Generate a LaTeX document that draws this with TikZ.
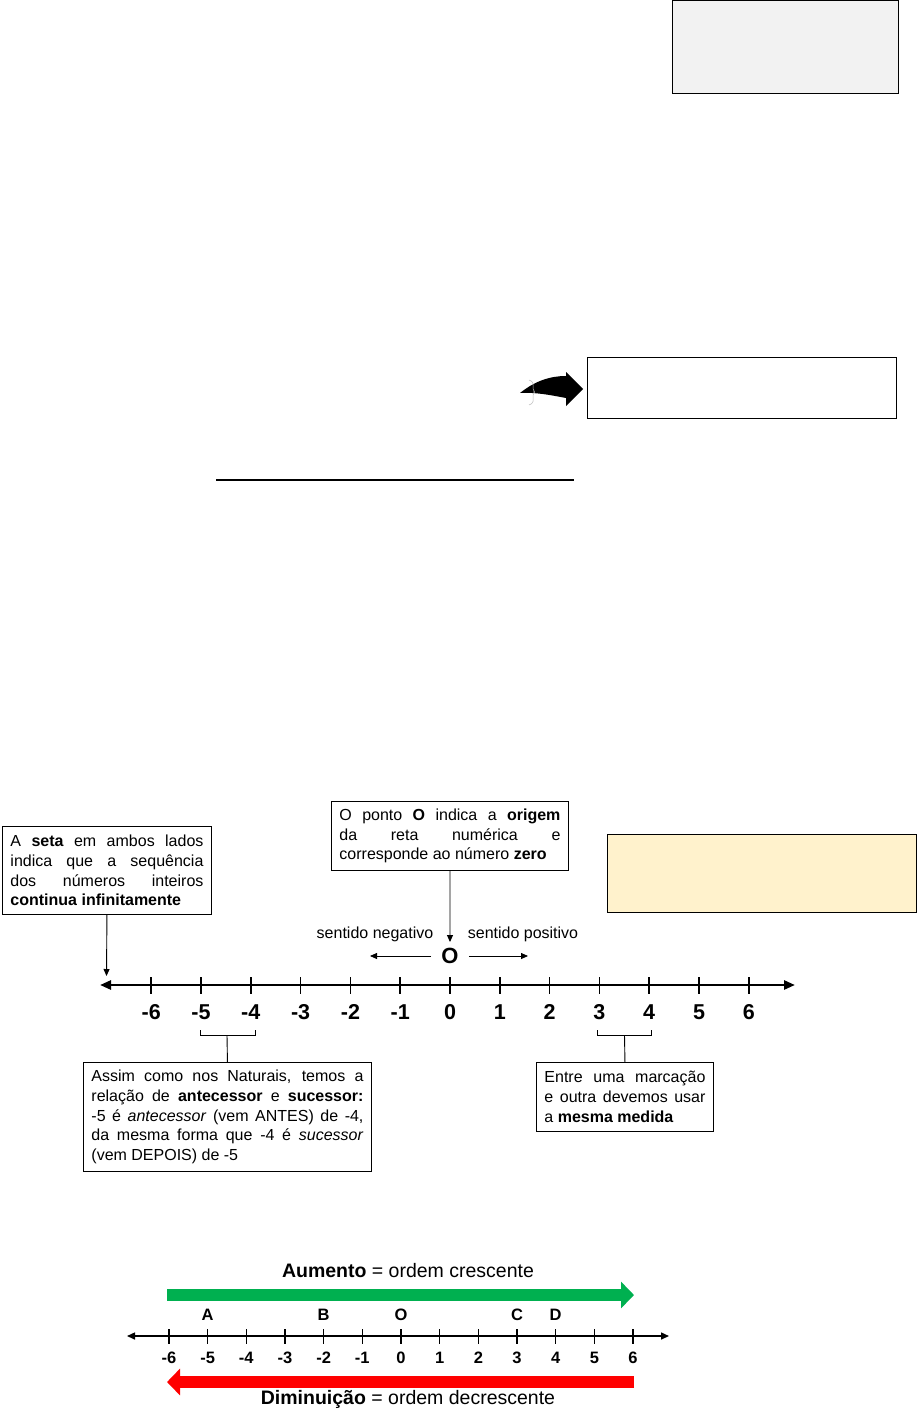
\documentclass[tikz,border=0pt]{standalone}
\usepackage{fontspec}
\setmainfont{Liberation Sans}
\usetikzlibrary{arrows.meta}
\definecolor{boxgray}{RGB}{242,242,242}
\definecolor{notecream}{RGB}{255,242,204}
\definecolor{upgreen}{RGB}{0,176,80}
\definecolor{downred}{RGB}{255,0,0}
\newcommand\bodysize{\fontsize{16}{19.8}\selectfont}
\tikzset{
  notebox/.style={draw,line width=.9pt,anchor=north west,align=justify,
    inner xsep=8pt,inner ysep=0pt,font=\bodysize},
  blankbox/.style={draw,line width=.9pt,anchor=north west,inner sep=0pt},
  numbig/.style={font=\fontsize{21.5}{21.5}\selectfont\bfseries},
  numsmall/.style={font=\fontsize{16.5}{16.5}\selectfont\bfseries},
  pointer/.style={line width=.9pt,-{Triangle[length=7pt,width=6pt]}},
  fattip/.style={-{Triangle[length=13pt,width=26pt]}}
}

\begin{document}
\begin{tikzpicture}[x=1pt,y=-1pt,line join=miter]
  \useasboundingbox (0,0) rectangle (917,1421);
  \node[blankbox,fill=boxgray,minimum width=226pt,minimum height=92pt] (topbox) at (672,0.5) {};
  \fill (520,393) .. controls (535,381) and (550,376) .. (566,376) -- (566,372) -- (583,389)
    -- (566,406) -- (566,398) .. controls (550,395) and (535,392) .. (520,393) -- cycle;
  \draw[gray!55,line width=.5pt,rounded corners=1.5pt] (529,380) -- (533,382) -- (533,390)
    -- (535,392) -- (533,394) -- (533,403) -- (529,405);
  \node[blankbox,minimum width=309pt,minimum height=61pt] (answerbox) at (587,357) {};
  \draw[line width=1.2pt] (216,480) -- (574,480);

  \node[notebox,text width=193pt,minimum height=88pt] (seta) at (2,826)
    {A \textbf{seta} em ambos lados\linebreak indica que a sequência\linebreak
     dos números inteiros\linebreak \textbf{continua infinitamente}};
  \node[notebox,text width=221pt,minimum height=69pt] (ponto) at (331,801)
    {O ponto \textbf{O} indica a \textbf{origem}\linebreak da reta numérica e\linebreak
     corresponde ao número \textbf{zero}};
  \node[blankbox,fill=notecream,minimum width=309pt,minimum height=78pt] (notebox) at (607,834) {};
  \node[font=\fontsize{22}{22}\selectfont\bfseries,inner xsep=10pt,inner ysep=2pt] (origin) at (450,956) {O};
  \node[font=\bodysize] (negtxt) at (375,934) {sentido negativo};
  \node[font=\bodysize] (postxt) at (523,934) {sentido positivo};
  \coordinate (setatip) at (106.5,976);
  \coordinate (negtip) at (370,956);
  \coordinate (postip) at (528,956);
  \draw[pointer] (seta.south) -- (setatip);
  \draw[pointer,shorten >=4pt] (ponto.south) -- (origin.north);
  \draw[pointer,line width=.8pt] (origin.west) -- (negtip);
  \draw[pointer,line width=.8pt] (origin.east) -- (postip);

  \coordinate (midL) at (100,985);
  \coordinate (midR) at (795,985);
  \draw[line width=2.6pt,{Triangle[length=11pt,width=9pt]}-{Triangle[length=11pt,width=9pt]}] (midL) -- (midR);
  \foreach \n [count=\i] in {-6,...,6} {
    \draw[line width=1.6pt] ({450+49.8*\n},977) -- ({450+49.8*\n},994);
    \node[numbig] (mid\i) at ({450+49.8*\n},1012) {\n};
  }
  \draw[line width=.9pt] (200,1030) -- (200,1035) -- (255,1035) -- (255,1030);
  \draw[line width=.9pt] (597,1030) -- (597,1035) -- (651,1035) -- (651,1030);
  \coordinate (brleft) at (227,1035);
  \coordinate (brright) at (624.5,1035);
  \node[notebox,text width=272pt,minimum height=109pt] (assim) at (83,1062)
    {Assim como nos Naturais, temos a\linebreak relação de \textbf{antecessor} e \textbf{sucessor:}\linebreak
     -5 é \textit{antecessor} (vem ANTES) de -4,\linebreak da mesma forma que -4 é \textit{sucessor}\linebreak
     (vem DEPOIS) de -5};
  \node[notebox,text width=161pt,minimum height=69pt] (entre) at (536,1062)
    {Entre uma marcação\linebreak e outra devemos usar\linebreak a \textbf{mesma medida}};
  \draw[line width=.9pt] (brleft) -- (assim.north);
  \draw[line width=.9pt] (brright) -- (entre.north);

  \node[font=\fontsize{19.5}{19.5}\selectfont] (uptxt) at (408,1271) {\textbf{Aumento} = ordem crescente};
  \coordinate (upS) at (167,1295);
  \coordinate (upE) at (634,1295);
  \draw[upgreen,line width=12pt,fattip] (upS) -- (upE);
  \foreach \l/\n in {A/-5,B/-2,O/0,C/3,D/4}
    \node[numsmall] (pt\l) at ({401+38.67*\n},1315) {\l};
  \coordinate (botL) at (127,1336);
  \coordinate (botR) at (669,1336);
  \draw[line width=1.5pt,{Triangle[length=8pt,width=7pt]}-{Triangle[length=8pt,width=7pt]}] (botL) -- (botR);
  \foreach \n [count=\i] in {-6,...,6} {
    \draw[line width=1.2pt] ({401+38.67*\n},1329) -- ({401+38.67*\n},1344);
    \node[numsmall] (bot\i) at ({401+38.67*\n},1358) {\n};
  }
  \coordinate (dnS) at (634,1382);
  \coordinate (dnE) at (167,1382);
  \draw[downred,line width=12pt,fattip] (dnS) -- (dnE);
  \node[font=\fontsize{19.5}{19.5}\selectfont] (dntxt) at (408,1399) {\textbf{Diminuição} = ordem decrescente};
\end{tikzpicture}
\end{document}
